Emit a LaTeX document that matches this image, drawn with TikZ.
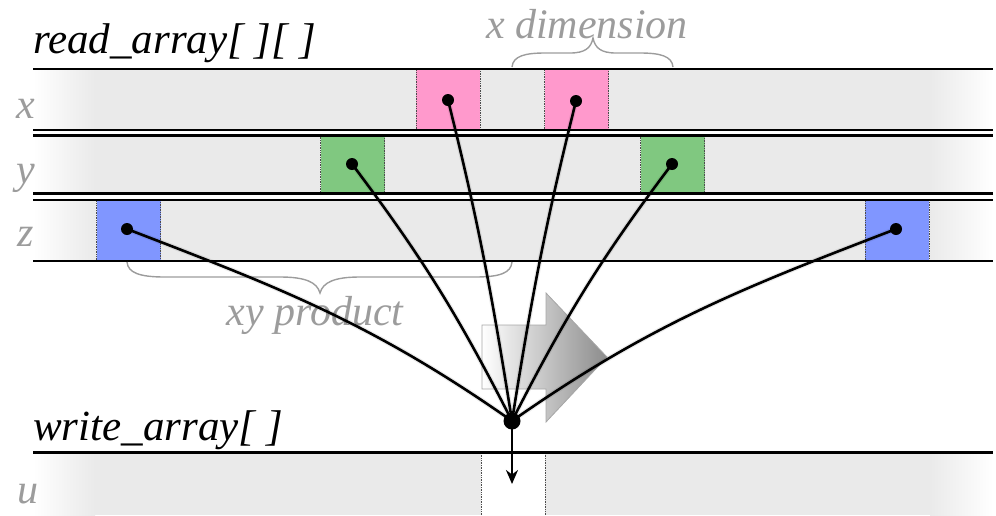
\documentclass[tikz,border=0pt]{standalone}
\usepackage{fontspec}
\setmainfont{Liberation Serif}
\usetikzlibrary{arrows.meta}
\definecolor{rowgray}{HTML}{EAEAEA}
\definecolor{pinkc}{HTML}{FF99CC}
\definecolor{greenc}{HTML}{80C880}
\definecolor{bluec}{HTML}{8096FF}
\definecolor{labgray}{HTML}{9C9C9C}
\tikzset{
  rowline/.style={line width=2.6pt},
  cell/.style={rectangle, minimum width=64pt, inner sep=0pt, draw=black!70, densely dotted, line width=0.7pt},
  pt/.style={circle, fill=black, inner sep=0pt, minimum size=12pt},
  conn/.style={line width=2.6pt, line cap=round},
  connshadow/.style={line width=5pt, line cap=round, draw=black, opacity=0.08},
  title/.style={font=\fontsize{43}{50}\selectfont\itshape, inner sep=0pt},
  lab/.style={font=\fontsize{42}{50}\selectfont\itshape, text=labgray, inner sep=0pt},
  bracec/.style={draw=labgray, line width=1.4pt}
}
\newcommand{\grayrow}[2]{%
  \fill[rowgray] (33,#1) rectangle (993,#2);
  \shade[left color=white, right color=rowgray] (33,#1) rectangle (95,#2);
  \shade[left color=rowgray, right color=white] (930,#1) rectangle (993,#2);
}
\begin{document}
\begin{tikzpicture}[x=1pt,y=-1pt]
\useasboundingbox (0,0) rectangle (996,515);
% row backgrounds
\grayrow{69}{130}
\grayrow{135.5}{193.5}
\grayrow{200}{261}
\grayrow{452.5}{515}
% gap cell in u row
\fill[white] (481,453) rectangle (545,515);
\draw[black!70, densely dotted, line width=0.7pt] (481,453) -- (481,515) (545,453) -- (545,515);
% cells
\node[cell, fill=pinkc, minimum height=61pt] (cp1) at (448,99.5) {};
\node[cell, fill=pinkc, minimum height=61pt] (cp2) at (576.5,99.5) {};
\node[cell, fill=greenc, minimum height=58pt] (cg1) at (352.5,164.5) {};
\node[cell, fill=greenc, minimum height=58pt] (cg2) at (672.5,164.5) {};
\node[cell, fill=bluec, minimum height=61pt] (cb1) at (128.5,230.5) {};
\node[cell, fill=bluec, minimum height=61pt] (cb2) at (897,230.5) {};
% row lines
\draw[rowline] (33,69) -- (993,69);
\draw[rowline] (33,130) -- (993,130);
\draw[rowline] (33,135.5) -- (993,135.5);
\draw[rowline] (33,193.5) -- (993,193.5);
\draw[rowline] (33,200) -- (993,200);
\draw[rowline] (33,261) -- (993,261);
\draw[rowline] (33,452.5) -- (993,452.5);
% labels
\node[title, anchor=base west] (ra) at (33,53) {read\_array[ ][ ]};
\node[title, anchor=base west] (wa) at (33,440) {write\_array[ ]};
\node[lab, anchor=base] (xd) at (587,38) {x dimension};
\node[lab, anchor=base] (xyp) at (315,325) {xy product};
\node[lab, anchor=base west] (lx) at (16,118) {x};
\node[lab, anchor=base west] (ly) at (16,183) {y};
\node[lab, anchor=base west] (lz) at (17,246) {z};
\node[lab, anchor=base west] (lu) at (17,503) {u};
% braces
\draw[bracec] (512,67) .. controls (513,56) and (525,53) .. (545,53) -- (570,53)
  .. controls (585,53) and (591,48) .. (593,38)
  .. controls (595,48) and (601,53) .. (616,53) -- (640,53)
  .. controls (660,53) and (672,56) .. (673,67);
\draw[bracec] (127,262) .. controls (128,273) and (140,277) .. (165,277) -- (280,277)
  .. controls (305,277) and (317,282) .. (320,293)
  .. controls (323,282) and (335,277) .. (360,277) -- (475,277)
  .. controls (500,277) and (511,273) .. (512,262);
% big gray arrow
\shade[left color=white, right color=black!45, draw=black!35, line width=0.8pt]
  (482,325) -- (546,325) -- (546,293) -- (607,357) -- (546,422) -- (546,389) -- (482,389) -- cycle;
% dots
\node[pt] (dp1) at (448,100) {};
\node[pt] (dp2) at (576,101) {};
\node[pt] (dg1) at (352,164) {};
\node[pt] (dg2) at (672,164) {};
\node[pt] (db1) at (127,229) {};
\node[pt] (db2) at (896,229) {};
\node[pt, minimum size=17pt] (c) at (512,421) {};
\coordinate (uend) at (512,484);
% connector shadows
\begin{scope}[shift={(3,4)}]
\draw[connshadow] (db1.center) to[out=-21,in=145] (c.center);
\draw[connshadow] (dg1.center) to[out=-53,in=117] (c.center);
\draw[connshadow] (dp1.center) to[out=-76,in=99] (c.center);
\draw[connshadow] (dp2.center) to[out=-104,in=81] (c.center);
\draw[connshadow] (dg2.center) to[out=-127,in=63] (c.center);
\draw[connshadow] (db2.center) to[out=-159,in=35] (c.center);
\end{scope}
% connectors
\draw[conn] (db1.center) to[out=-21,in=145] (c.center);
\draw[conn] (dg1.center) to[out=-53,in=117] (c.center);
\draw[conn] (dp1.center) to[out=-76,in=99] (c.center);
\draw[conn] (dp2.center) to[out=-104,in=81] (c.center);
\draw[conn] (dg2.center) to[out=-127,in=63] (c.center);
\draw[conn] (db2.center) to[out=-159,in=35] (c.center);
\draw[line width=2.6pt, -{Stealth[length=14pt,width=12pt]}] (c.center) -- (uend);
\end{tikzpicture}
\end{document}
